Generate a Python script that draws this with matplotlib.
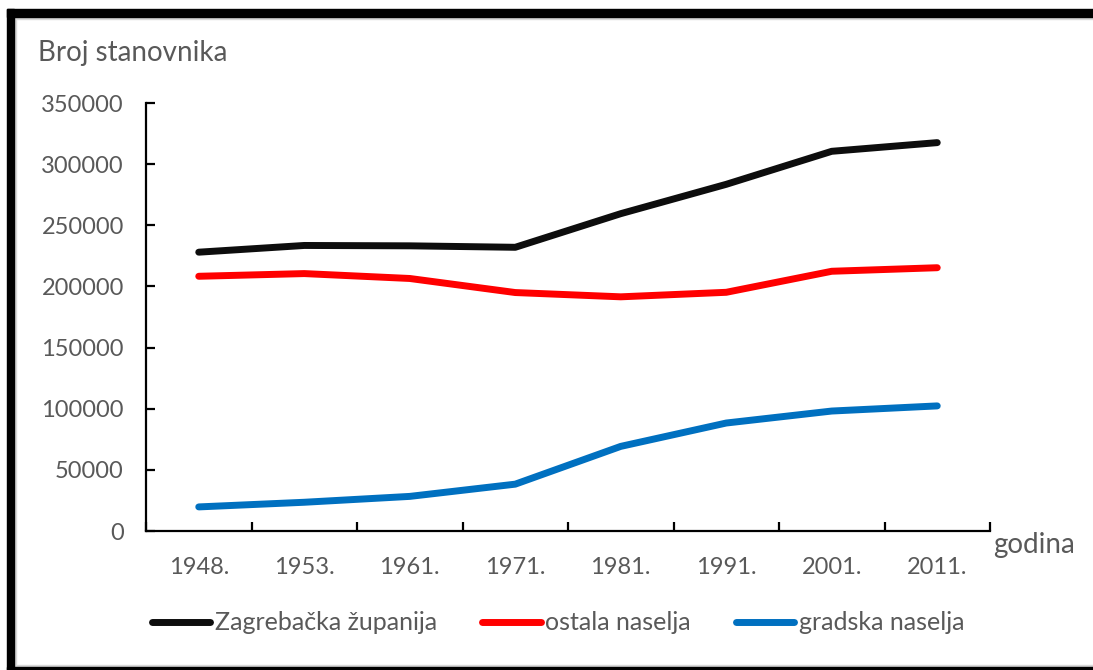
import matplotlib
matplotlib.use("Agg")
import matplotlib.pyplot as plt
from matplotlib.patches import Rectangle

years = ["1948.", "1953.", "1961.", "1971.", "1981.", "1991.", "2001.", "2011."]
zagrebacka = [228000, 233500, 233200, 232000, 259500, 283500, 310500, 317600]
ostala = [208300, 210500, 206500, 195000, 191500, 195200, 212400, 215300]
gradska = [19700, 23500, 28300, 38300, 69200, 88300, 98100, 102300]
yticks = [0, 50000, 100000, 150000, 200000, 250000, 300000, 350000]

plt.rcParams['font.family'] = ['Lato', 'DejaVu Sans']
TXT = '#595959'

fig = plt.figure(figsize=(10.93, 6.70), dpi=100)
ax = fig.add_axes([146/1093, 1-531/670, (990-146)/1093, (531-103)/670])

x = list(range(len(years)))
l1, = ax.plot(x, zagrebacka, color='#0d0d0d', lw=5, solid_capstyle='round', solid_joinstyle='round', label='Zagrebačka županija')
l2, = ax.plot(x, ostala, color='#ff0000', lw=5, solid_capstyle='round', solid_joinstyle='round', label='ostala naselja')
l3, = ax.plot(x, gradska, color='#0070c0', lw=5, solid_capstyle='round', solid_joinstyle='round', label='gradska naselja')

ax.set_xlim(-0.5, len(years) - 0.5)
ax.set_ylim(0, 350000)
ax.set_yticks(yticks)
ax.set_yticklabels([str(v) for v in yticks])
ax.set_xticks(x)
ax.set_xticklabels(years)
ax.set_xticks([i - 0.5 for i in range(len(years) + 1)], minor=True)

for s in ['top', 'right']:
    ax.spines[s].set_visible(False)
for s in ['left', 'bottom']:
    ax.spines[s].set_linewidth(1.6)
    ax.spines[s].set_color('black')

ax.tick_params(axis='x', which='major', length=0, pad=19, labelsize=17, labelcolor=TXT)
ax.tick_params(axis='x', which='minor', direction='in', length=6.5, width=1.6, color='black')
ax.tick_params(axis='y', which='major', direction='in', length=6.5, width=1.6, color='black', pad=16, labelsize=17, labelcolor=TXT)

fig.text(38/1093, 1-53/670, 'Broj stanovnika', fontsize=20, color=TXT, ha='left', va='center')
fig.text(993/1093, 1-545/670, 'godina', fontsize=20, color=TXT, ha='left', va='center')

leg = fig.legend(handles=[l1, l2, l3], loc='center', bbox_to_anchor=(558/1093, 1-623/670), ncol=3,
                 frameon=False, fontsize=18, handlelength=2.34, handletextpad=0.18, columnspacing=1.8,
                 labelcolor=TXT)

# outer frame
fig.patches.append(Rectangle((7/1093, 0), 7/1093, 1-9/670, transform=fig.transFigure, color='black', zorder=10))
fig.patches.append(Rectangle((7/1093, 1-17/670), 1, 8/670, transform=fig.transFigure, color='black', zorder=10))
fig.patches.append(Rectangle((7/1093, 0), 1, 3/670, transform=fig.transFigure, color='black', zorder=10))
fig.patches.append(Rectangle((14/1093, 1-19/670), 1, 2/670, transform=fig.transFigure, color='#d9d9d9', zorder=9))
fig.patches.append(Rectangle((14/1093, 0), 2/1093, 1-17/670, transform=fig.transFigure, color='#d9d9d9', zorder=9))
fig.patches.append(Rectangle((14/1093, 3/670), 1, 2/670, transform=fig.transFigure, color='#d9d9d9', zorder=9))

fig.savefig('out.png', dpi=100)
